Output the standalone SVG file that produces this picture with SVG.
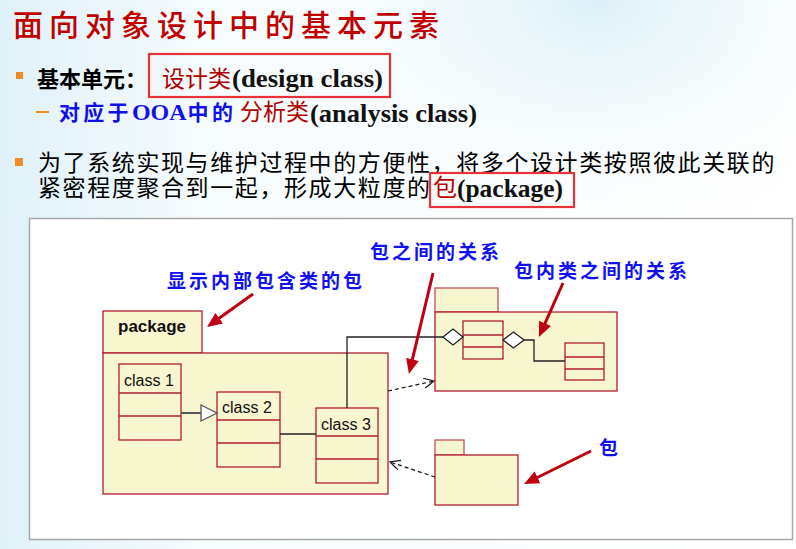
<svg xmlns="http://www.w3.org/2000/svg" width="796" height="549" viewBox="0 0 796 549">
  <defs>
    <linearGradient id="bgLeft" x1="0" y1="0" x2="1" y2="0">
      <stop offset="0" stop-color="#dff1f8"/>
      <stop offset="0.25" stop-color="#f6fbfd"/>
      <stop offset="1" stop-color="#ffffff"/>
    </linearGradient>
    <radialGradient id="glowTop" cx="0.75" cy="0" r="0.45">
      <stop offset="0" stop-color="#d8eef6" stop-opacity="0.9"/>
      <stop offset="1" stop-color="#ffffff" stop-opacity="0"/>
    </radialGradient>
    <marker id="redHead" markerUnits="userSpaceOnUse" markerWidth="16" markerHeight="14" refX="7" refY="6.5" orient="auto">
      <path d="M0,0 L15,6.5 L0,13 z" fill="#c00010"/>
    </marker>
    <marker id="openHead" markerUnits="userSpaceOnUse" markerWidth="12" markerHeight="12" refX="10" refY="5" orient="auto">
      <path d="M0,0 L10,5 L0,10" fill="none" stroke="#111" stroke-width="1.2"/>
    </marker>
    <style>
      .title { font-family: "Noto Sans CJK SC", sans-serif; font-size: 30px; font-weight: 500; fill: #c00000; letter-spacing: 6px; }
      .cjk { font-family: "Noto Sans CJK SC", sans-serif; }
      .serif { font-family: "Liberation Serif", "Noto Sans CJK SC", serif; }
      .note { font-family: "Noto Sans CJK SC", sans-serif; font-size: 19px; font-weight: bold; fill: #1010f0; letter-spacing: 3px; }
      .pkg { fill: #f7f6cf; stroke: #b41c32; stroke-width: 1.3; }
      .pkg-soft { fill: #f7f6cf; stroke: #c4505e; stroke-width: 1.3; }
      .cls { fill: #f7f6cf; stroke: #b41c32; stroke-width: 1.3; }
      .div { stroke: #b41c32; stroke-width: 1.3; }
      .cname { font-family: "Liberation Sans", sans-serif; font-size: 16px; fill: #111; }
      .red-arrow { stroke: #c00010; stroke-width: 3; fill: none; marker-end: url(#redHead); }
      .dep { stroke: #111; stroke-width: 1.2; stroke-dasharray: 4 3; fill: none; marker-end: url(#openHead); }
      .assoc { stroke: #222; stroke-width: 1.3; fill: none; }
    </style>
  </defs>

  <!-- slide background -->
  <rect x="0" y="0" width="796" height="549" fill="url(#bgLeft)"/>
  <rect x="0" y="0" width="796" height="549" fill="url(#glowTop)"/>

  <!-- heading -->
  <text class="title" x="13" y="36">面向对象设计中的基本元素</text>

  <!-- bullet 1 -->
  <rect x="16" y="72" width="7" height="7" fill="#f08a24"/>
  <text class="cjk" x="37" y="87" font-size="22" font-weight="bold" fill="#000">基本单元：</text>
  <rect x="149" y="54" width="241" height="43" fill="none" stroke="#e8323a" stroke-width="2.2"/>
  <text class="cjk" x="162" y="87" font-size="23" fill="#b00000">设计类</text>
  <text class="serif" x="232" y="87" font-size="26" font-weight="bold" fill="#111" textLength="151" lengthAdjust="spacingAndGlyphs">(design class)</text>

  <!-- sub item -->
  <line x1="36" y1="112" x2="49" y2="112" stroke="#f08a24" stroke-width="2"/>
  <text class="cjk" x="59" y="120" font-size="21" font-weight="bold" fill="#1010e8" letter-spacing="3.3">对应于<tspan font-family="Liberation Serif, serif" font-size="24" letter-spacing="0">OOA</tspan><tspan dx="1">中的</tspan></text>
  <text class="cjk" x="240" y="120" font-size="23" fill="#b00000">分析类</text>
  <text class="serif" x="310" y="122" font-size="25" font-weight="bold" fill="#111" textLength="167" lengthAdjust="spacingAndGlyphs">(analysis class)</text>

  <!-- bullet 2 -->
  <rect x="15" y="158" width="8" height="8" fill="#f08a24"/>
  <text class="cjk" x="38" y="171" font-size="23" fill="#000" letter-spacing="1.6">为了系统实现与维护过程中的方便性，将多个设计类按照彼此关联的</text>
  <text class="cjk" x="38" y="196" font-size="23" fill="#000" letter-spacing="1.6">紧密程度聚合到一起，形成大粒度的</text>
  <rect x="430" y="173" width="144" height="34" fill="none" stroke="#e8323a" stroke-width="2.2"/>
  <text class="cjk" x="433" y="196" font-size="24" fill="#c00000">包</text>
  <text class="serif" x="457" y="197" font-size="26" font-weight="bold" fill="#111" textLength="106" lengthAdjust="spacingAndGlyphs">(package)</text>

  <!-- diagram frame -->
  <rect x="29.5" y="218.5" width="763" height="321" fill="#ffffff" stroke="#a6a6a6" stroke-width="1.5"/>

  <!-- package with its classes shown -->
  <g id="pkg-main">
    <rect class="pkg" x="103" y="311" width="99" height="42"/>
    <rect class="pkg" x="103" y="353" width="285" height="141"/>
    <text x="118" y="332" font-family="Liberation Sans, sans-serif" font-size="17" font-weight="bold" fill="#111">package</text>
  </g>
  <g id="class1">
    <rect class="cls" x="119" y="364" width="62" height="76"/>
    <line class="div" x1="119" y1="393" x2="181" y2="393"/>
    <line class="div" x1="119" y1="416" x2="181" y2="416"/>
    <text class="cname" x="124" y="386">class 1</text>
  </g>
  <g id="class2">
    <rect class="cls" x="217" y="392" width="63" height="75"/>
    <line class="div" x1="217" y1="420" x2="280" y2="420"/>
    <line class="div" x1="217" y1="443" x2="280" y2="443"/>
    <text class="cname" x="222" y="413">class 2</text>
  </g>
  <g id="class3">
    <rect class="cls" x="316" y="408" width="62" height="75"/>
    <line class="div" x1="316" y1="436" x2="378" y2="436"/>
    <line class="div" x1="316" y1="459" x2="378" y2="459"/>
    <text class="cname" x="321" y="430">class 3</text>
  </g>

  <!-- package with two inner classes -->
  <g id="pkg-right">
    <rect class="pkg-soft" x="435" y="288" width="63" height="24"/>
    <rect class="pkg" x="435" y="312" width="182" height="79"/>
  </g>
  <g id="inner-a">
    <rect class="cls" x="463" y="321" width="40" height="38"/>
    <line class="div" x1="463" y1="335" x2="503" y2="335"/>
    <line class="div" x1="463" y1="347" x2="503" y2="347"/>
  </g>
  <g id="inner-b">
    <rect class="cls" x="565" y="343" width="39" height="37"/>
    <line class="div" x1="565" y1="357" x2="604" y2="357"/>
    <line class="div" x1="565" y1="369" x2="604" y2="369"/>
  </g>

  <!-- collapsed package -->
  <g id="pkg-small">
    <rect class="pkg-soft" x="435" y="440" width="29" height="15"/>
    <rect class="pkg" x="435" y="455" width="83" height="50"/>
  </g>

  <!-- relationships -->
  <g id="connectors">
    <line x1="181" y1="413" x2="201" y2="413" stroke="#555" stroke-width="2"/>
    <polygon points="201,405 217,413 201,421" fill="#fff" stroke="#555" stroke-width="1.3"/>
    <line class="assoc" x1="280" y1="434" x2="316" y2="434"/>
    <path class="assoc" d="M347,408 V337 H443"/>
    <polygon points="443,337 453,329 463,337 453,345" fill="#fff" stroke="#222" stroke-width="1.3"/>
    <polygon points="503,340 513.5,332 524,340 513.5,348" fill="#fff" stroke="#222" stroke-width="1.3"/>
    <path class="assoc" d="M524,340 H534 V361 H565"/>
    <line class="dep" x1="388" y1="391" x2="434" y2="381"/>
    <line class="dep" x1="435" y1="477" x2="390" y2="462"/>
  </g>

  <!-- callouts -->
  <g id="callouts">
    <text class="note" x="167" y="288">显示内部包含类的包</text>
    <text class="note" x="370" y="259">包之间的关系</text>
    <text class="note" x="514" y="278">包内类之间的关系</text>
    <text class="note" x="599" y="455">包</text>
    <line class="red-arrow" x1="253" y1="294" x2="213.5" y2="322.3"/>
    <line class="red-arrow" x1="433" y1="273" x2="410.8" y2="366.2"/>
    <line class="red-arrow" x1="563" y1="283" x2="542.2" y2="329.7"/>
    <line class="red-arrow" x1="591" y1="451" x2="531.2" y2="480.5"/>
  </g>
</svg>
